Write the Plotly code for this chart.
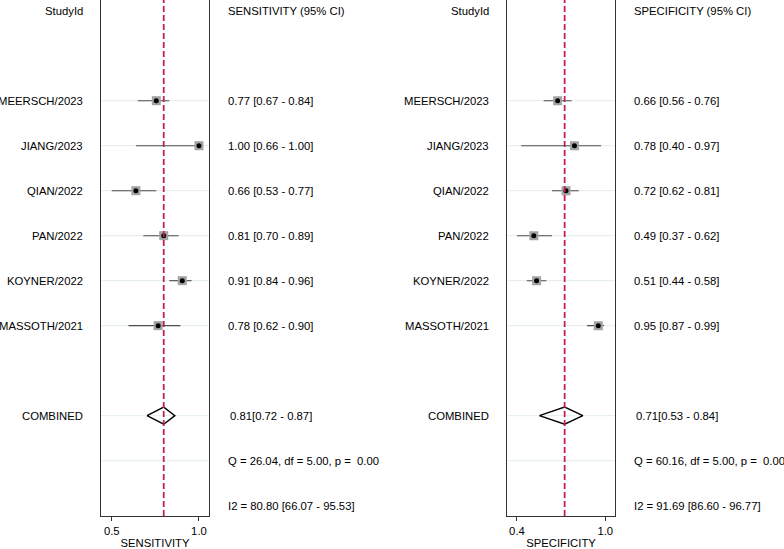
import plotly.graph_objects as go

W, H = 784, 549

studies = ["MEERSCH/2023", "JIANG/2023", "QIAN/2022", "PAN/2022", "KOYNER/2022", "MASSOTH/2021"]

sens_est = [0.77, 1.00, 0.66, 0.81, 0.91, 0.78]
sens_lo = [0.67, 0.66, 0.53, 0.70, 0.84, 0.62]
sens_hi = [0.84, 1.00, 0.77, 0.89, 0.96, 0.90]
sens_pooled = [0.81, 0.72, 0.87]
sens_q = [26.04, 5.00, 0.00]
sens_i2 = [80.80, 66.07, 95.53]

spec_est = [0.66, 0.78, 0.72, 0.49, 0.51, 0.95]
spec_lo = [0.56, 0.40, 0.62, 0.37, 0.44, 0.87]
spec_hi = [0.76, 0.97, 0.81, 0.62, 0.58, 0.99]
spec_pooled = [0.71, 0.53, 0.84]
spec_q = [60.16, 5.00, 0.00]
spec_i2 = [91.69, 86.60, 96.77]

FONT = "Helvetica, Arial, Liberation Sans, sans-serif"
FS = 11.3

study_rows = [2, 3, 4, 5, 6, 7]
ROW_COMB, ROW_Q, ROW_I2 = 9, 10, 11

fig = go.Figure()

panels = [
    dict(name="SENSITIVITY", est=sens_est, lo=sens_lo, hi=sens_hi, pooled=sens_pooled,
         q=sens_q, i2=sens_i2, xa="x", ya="y", dom=[101 / W, 209 / W], rng=[0.472, 1.054],
         lab_x=85, val_x=225.5),
    dict(name="SPECIFICITY", est=spec_est, lo=spec_lo, hi=spec_hi, pooled=spec_pooled,
         q=spec_q, i2=spec_i2, xa="x2", ya="y2", dom=[507.3 / W, 614.7 / W], rng=[0.301, 1.067],
         lab_x=491, val_x=632),
]

annotations = []
shapes = []
layout_axes = {}

for k, p in enumerate(panels):
    xa, ya = p["xa"], p["ya"]
    x0, x1 = p["rng"]
    # gridlines
    for r in study_rows + [ROW_COMB, ROW_Q]:
        shapes.append(dict(type="line", xref=xa + " domain", yref=ya, x0=0, x1=1, y0=r, y1=r,
                           line=dict(color="#e2ecf1", width=1), layer="below"))
    # CI lines
    for e, lo, hi, r in zip(p["est"], p["lo"], p["hi"], study_rows):
        fig.add_trace(go.Scatter(x=[lo, hi], y=[r, r], mode="lines", xaxis=xa, yaxis=ya,
                                 line=dict(color="#4d4d4d", width=1.1), showlegend=False,
                                 hoverinfo="skip"))
    fig.add_trace(go.Scatter(x=p["est"], y=study_rows, mode="markers", xaxis=xa, yaxis=ya,
                             marker=dict(symbol="square", size=9, color="#a3a3a3",
                                         line=dict(width=0)), showlegend=False))
    fig.add_trace(go.Scatter(x=p["est"], y=study_rows, mode="markers", xaxis=xa, yaxis=ya,
                             marker=dict(symbol="circle", size=5, color="black",
                                         line=dict(width=0)), showlegend=False))
    # diamond
    pe, plo, phi = p["pooled"]
    hh = 0.19
    fig.add_trace(go.Scatter(x=[plo, pe, phi, pe, plo], y=[ROW_COMB, ROW_COMB - hh, ROW_COMB, ROW_COMB + hh, ROW_COMB],
                             mode="lines", xaxis=xa, yaxis=ya, line=dict(color="black", width=1.4),
                             showlegend=False, hoverinfo="skip"))
    # pooled dashed line
    shapes.append(dict(type="line", xref=xa, yref=ya + " domain", x0=pe, x1=pe, y0=0, y1=1,
                       line=dict(color="#bf2150", width=1.8, dash="6px,3px")))

    lo_min = min(p["lo"])
    ax_name = "xaxis" if k == 0 else "xaxis2"
    yax_name = "yaxis" if k == 0 else "yaxis2"
    layout_axes[ax_name] = dict(domain=p["dom"], range=[x0, x1], anchor=ya,
                                tickvals=[lo_min, 1.0],
                                ticktext=[f"{lo_min:.1f}", "1.0"],
                                ticks="outside", ticklen=4, tickcolor="#333", tickwidth=1,
                                showline=True, linecolor="#333", linewidth=1.3, mirror=False,
                                showgrid=False, zeroline=False,
                                tickfont=dict(family=FONT, size=FS, color="black"),
                                title=dict(text=p["name"], font=dict(family=FONT, size=FS, color="black"),
                                           standoff=4))
    layout_axes[yax_name] = dict(domain=[33 / H, 1.0], range=[11.23, -0.238], anchor=xa,
                                 showline=True, linecolor="#333", linewidth=1.3, mirror=True,
                                 showticklabels=False, ticks="", showgrid=False, zeroline=False)

    def txt(x, r, s, anchor):
        annotations.append(dict(xref="paper", yref=ya, x=x / W, y=r, text=s, showarrow=False,
                                xanchor=anchor, yanchor="middle",
                                font=dict(family=FONT, size=FS, color="black")))

    txt(p["lab_x"], 0, "StudyId", "right")
    txt(p["val_x"], 0, f"{p['name']} (95% CI)", "left")
    for s, e, lo, hi, r in zip(studies, p["est"], p["lo"], p["hi"], study_rows):
        txt(p["lab_x"], r, s, "right")
        txt(p["val_x"], r, f"{e:.2f} [{lo:.2f} - {hi:.2f}]", "left")
    txt(p["lab_x"], ROW_COMB, "COMBINED", "right")
    txt(p["val_x"] + 2.2, ROW_COMB, f"{pe:.2f}[{plo:.2f} - {phi:.2f}]", "left")
    qv, dfv, pv = p["q"]
    txt(p["val_x"], ROW_Q, f"Q = {qv:.2f}, df = {dfv:.2f}, p =  {pv:.2f}", "left")
    i2v, i2lo, i2hi = p["i2"]
    txt(p["val_x"], ROW_I2, f"I2 = {i2v:.2f} [{i2lo:.2f} - {i2hi:.2f}]", "left")

fig.update_layout(width=W, height=H, margin=dict(l=0, r=0, t=0, b=0),
                  paper_bgcolor="white", plot_bgcolor="white",
                  annotations=annotations, shapes=shapes, showlegend=False,
                  **layout_axes)

fig.write_html("out.html", config={"displayModeBar": False},
               post_script="document.body.style.margin='0';document.body.style.overflow='hidden';")
